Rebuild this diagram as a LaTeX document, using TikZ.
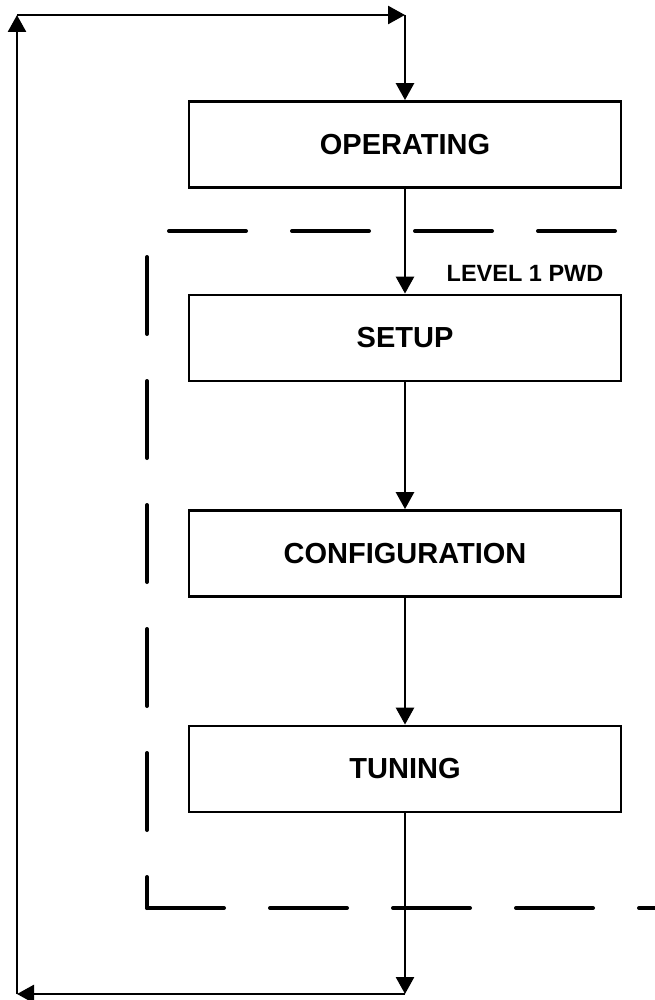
\documentclass[tikz,border=0pt]{standalone}
\usepackage{fontspec}
\setmainfont{Liberation Sans}
\usetikzlibrary{arrows.meta}
\begin{document}
\begin{tikzpicture}[x=1pt,y=-1pt,
  stagebox/.style={draw=black,line width=2.8pt,fill=white,minimum width=432pt,minimum height=86pt,inner sep=0pt,
    font=\fontsize{29}{33}\selectfont\bfseries},
  arr/.style={line width=2.7pt,-{Triangle[length=17pt,width=18pt]}},
  zone/.style={line width=4pt,line cap=round,dash pattern=on 77pt off 46pt},
  zonev/.style={line width=4pt,line cap=round,dash pattern=on 77pt off 47pt},
  lbl/.style={font=\fontsize{23.5}{26}\selectfont\bfseries,inner sep=0pt}]
\useasboundingbox (0,0) rectangle (655,1000);
% dashed zone
\draw[zone] (169,231) -- (655,231);
\draw[zonev] (147,257) -- (147,908);
\draw[zone] (147,908) -- (655,908);
% boxes
\node[stagebox] (op) at (405,144.5) {OPERATING};
\node[stagebox] (setup) at (405,338) {SETUP};
\node[stagebox] (conf) at (405,553.5) {CONFIGURATION};
\node[stagebox] (tun) at (405,769) {TUNING};
\node[lbl] (lvl) at (525,273.5) {LEVEL 1 PWD};
% loop corners
\coordinate (c1) at (405,15);
\coordinate (c2) at (17,15);
\coordinate (c3) at (17,994);
\coordinate (c4) at (405,994);
% connectors
\draw[arr] (op.south) -- (setup.north);
\draw[arr] (setup.south) -- (conf.north);
\draw[arr] (conf.south) -- (tun.north);
\draw[arr] (tun.south) -- (c4);
\draw[arr] (c4) -- (c3);
\draw[arr] (c3) -- (c2);
\draw[arr] (c2) -- (c1);
\draw[arr] (c1) -- (op.north);
\end{tikzpicture}
\end{document}
